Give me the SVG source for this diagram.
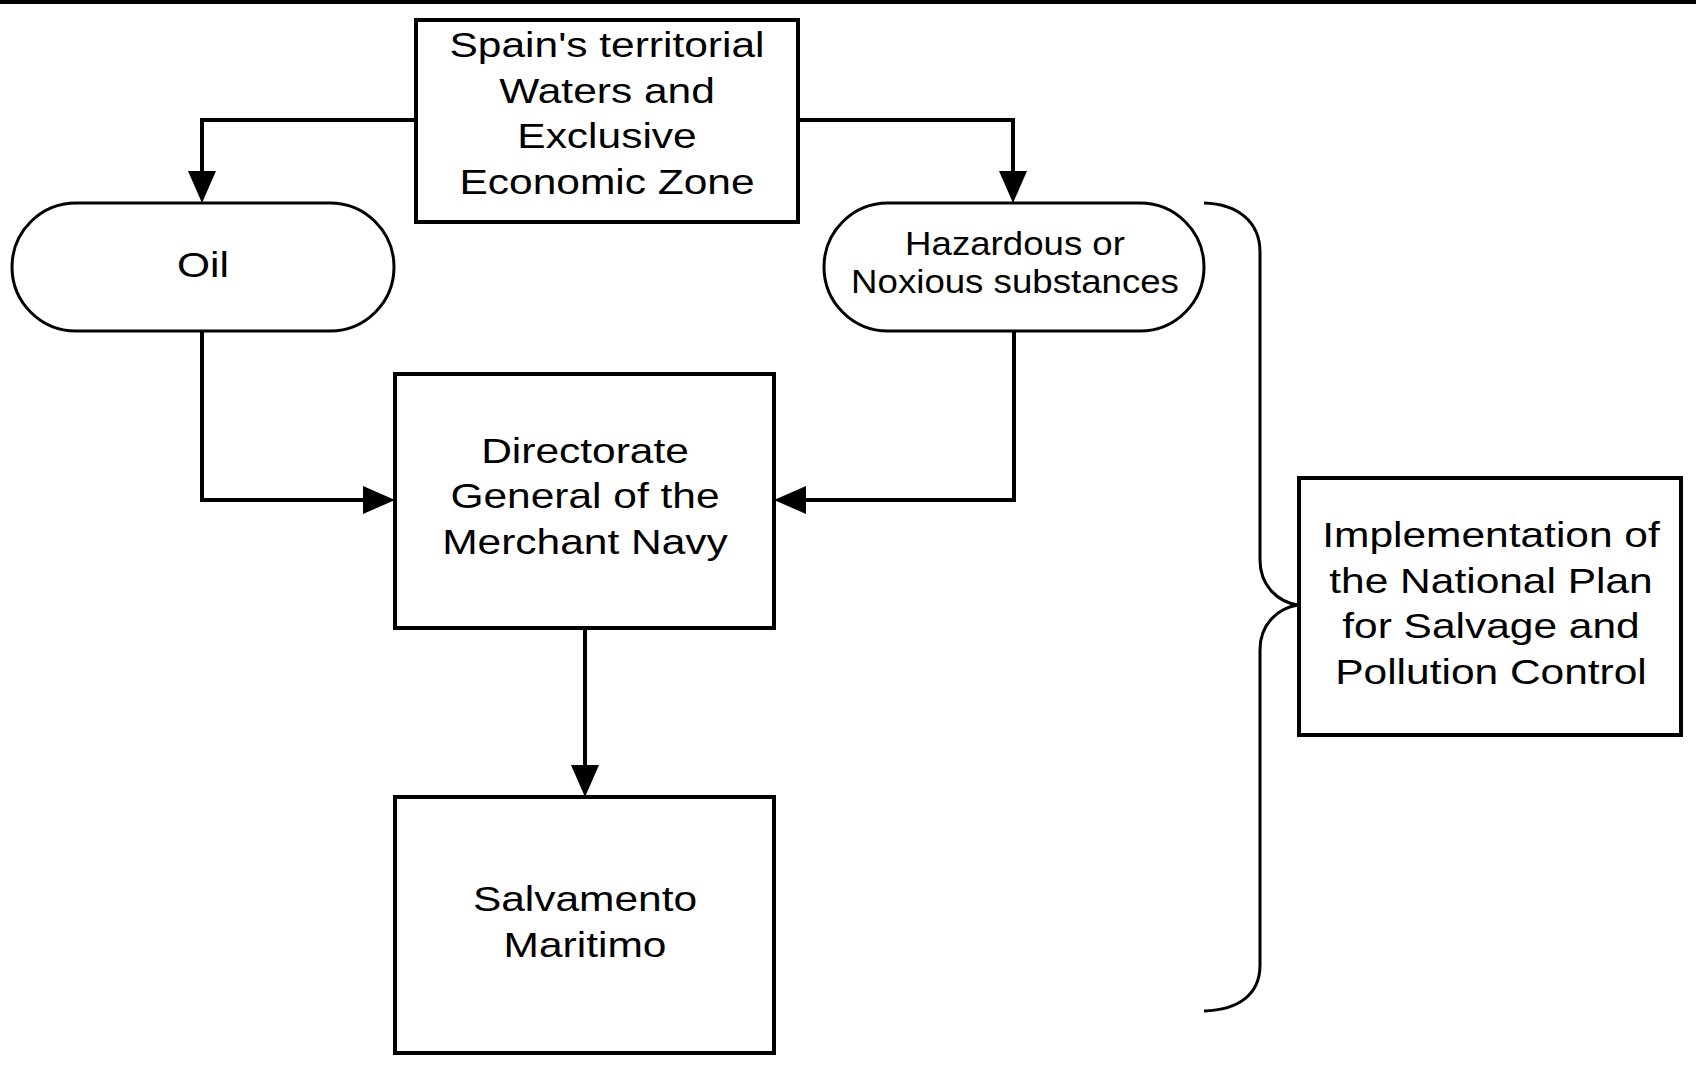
<svg xmlns="http://www.w3.org/2000/svg" width="1696" height="1071" viewBox="0 0 1696 1071">
<style>
.box{fill:#fff;stroke:#000;stroke-width:4}
.stad{fill:#fff;stroke:#000;stroke-width:3}
.con{fill:none;stroke:#000;stroke-width:4}
.brace{fill:none;stroke:#000;stroke-width:3}
.t{font-family:"Liberation Sans",Arial,sans-serif;font-size:36px;fill:#000;text-anchor:middle}
.ts{font-family:"Liberation Sans",Arial,sans-serif;font-size:33px;fill:#000;text-anchor:middle}
</style>
<defs>
<marker id="arr" markerUnits="userSpaceOnUse" markerWidth="32" markerHeight="28" refX="22" refY="14" orient="auto" viewBox="0 0 32 28">
<path d="M0,0 L32,14 L0,28 Z" fill="#000"/>
</marker>
</defs>
<rect x="0" y="0" width="1696" height="4" fill="#000"/>
<g id="connectors">
<path class="con" d="M416,120 H202 V193" marker-end="url(#arr)"/>
<path class="con" d="M798,120 H1013 V193" marker-end="url(#arr)"/>
<path class="con" d="M202,331 V500 H385" marker-end="url(#arr)"/>
<path class="con" d="M1014,331 V500 H784" marker-end="url(#arr)"/>
<path class="con" d="M585,628 V787" marker-end="url(#arr)"/>
<path class="brace" d="M1204,203 C1238,204 1260,222 1260,252 L1260,560 C1260,586 1278,602 1298,605 C1278,608 1260,624 1260,650 L1260,965 C1260,995 1238,1010 1204,1011"/>
</g>
<g id="node-spain">
<rect class="box" x="416" y="20" width="382" height="202"/>
<text class="t" transform="translate(607 0) scale(1.18 1)"><tspan x="0" y="57">Spain's territorial</tspan><tspan x="0" y="103">Waters and</tspan><tspan x="0" y="148">Exclusive</tspan><tspan x="0" y="194">Economic Zone</tspan></text>
</g>
<g id="node-oil">
<rect class="stad" x="12" y="203" width="382" height="128" rx="64" ry="64"/>
<text class="t" transform="translate(203 0) scale(1.18 1)"><tspan x="0" y="277">Oil</tspan></text>
</g>
<g id="node-hazardous">
<rect class="stad" x="824" y="203" width="380" height="128" rx="64" ry="64"/>
<text class="ts" transform="translate(1015 0) scale(1.11 1)"><tspan x="0" y="255">Hazardous or</tspan><tspan x="0" y="293">Noxious substances</tspan></text>
</g>
<g id="node-directorate">
<rect class="box" x="395" y="374" width="379" height="254"/>
<text class="t" transform="translate(585 0) scale(1.18 1)"><tspan x="0" y="463">Directorate</tspan><tspan x="0" y="508">General of the</tspan><tspan x="0" y="554">Merchant Navy</tspan></text>
</g>
<g id="node-salvamento">
<rect class="box" x="395" y="797" width="379" height="256"/>
<text class="t" transform="translate(585 0) scale(1.18 1)"><tspan x="0" y="911">Salvamento</tspan><tspan x="0" y="957">Maritimo</tspan></text>
</g>
<g id="node-implementation">
<rect class="box" x="1299" y="478" width="382" height="257"/>
<text class="t" transform="translate(1491 0) scale(1.18 1)"><tspan x="0" y="547">Implementation of</tspan><tspan x="0" y="593">the National Plan</tspan><tspan x="0" y="638">for Salvage and</tspan><tspan x="0" y="684">Pollution Control</tspan></text>
</g>
</svg>
